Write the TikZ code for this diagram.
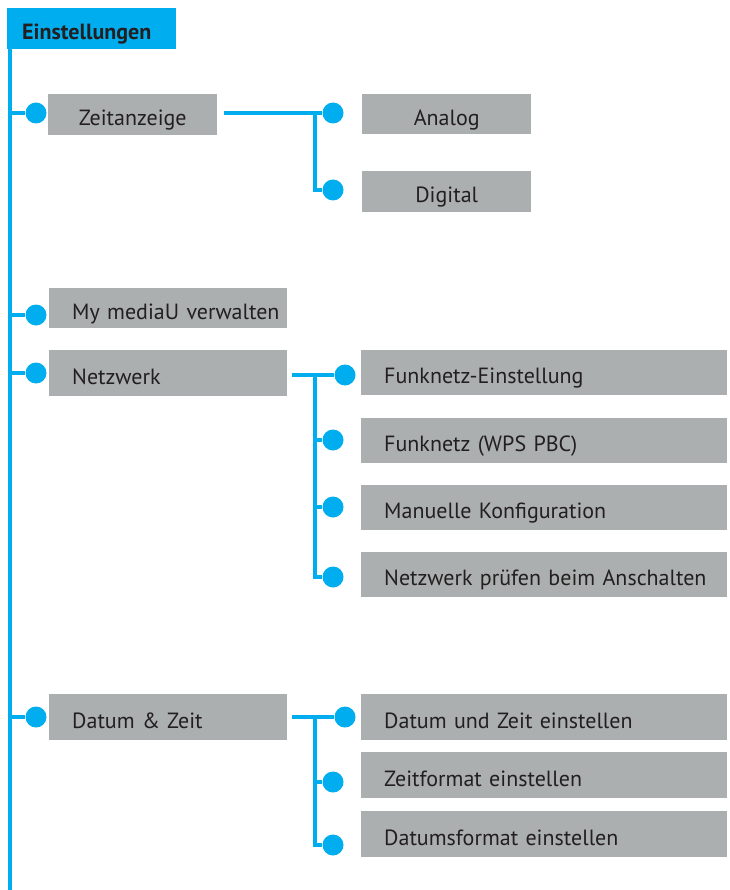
\documentclass[tikz,border=0pt]{standalone}
\usepackage{fontspec}
\setmainfont{PT Sans}
\definecolor{cy}{HTML}{00AEEF}
\definecolor{bx}{HTML}{ACAFAF}
\definecolor{tx}{HTML}{231F20}
\tikzset{
  box/.style={fill=bx, text=tx, font=\fontsize{22}{25}\selectfont, inner ysep=0pt, inner xsep=0pt, anchor=north west, text height=22pt, text depth=0pt},
  lbox/.style={box, align=left, execute at begin node={\hspace*{23pt}}},
  cbox/.style={box, align=center},
  dot/.style={circle, fill=cy, inner sep=0pt, minimum size=21pt},
  wire/.style={draw=cy, line width=4.5pt},
}
\begin{document}
\begin{tikzpicture}[x=1pt,y=-1pt]
\useasboundingbox (0,0) rectangle (729,890);
% header
\node[fill=cy, text=tx, font=\fontsize{22}{25}\selectfont\bfseries, anchor=north west, minimum width=169pt, minimum height=41pt, text width=139pt, inner xsep=15pt, inner ysep=0pt, align=left, text height=22pt, text depth=0pt] (hd) at (7,8) {Einstellungen};
\coordinate (mainend) at (10,890);
% main boxes
\node[cbox, minimum width=169pt, minimum height=41pt, text width=169pt] (zeit) at (48,94) {Zeitanzeige};
\node[lbox, minimum width=238pt, minimum height=40pt, text width=238pt] (media) at (49,288) {My mediaU verwalten};
\node[lbox, minimum width=238pt, minimum height=46pt, text width=238pt] (netz) at (49,350) {Netzwerk};
\node[lbox, minimum width=238pt, minimum height=46pt, text width=238pt] (datum) at (49,694) {Datum \& Zeit};
% sub boxes
\node[cbox, minimum width=169pt, minimum height=40pt, text width=169pt] (analog) at (362,94) {Analog};
\node[cbox, minimum width=169pt, minimum height=41pt, text width=169pt] (digital) at (362,171) {Digital};
\node[lbox, minimum width=366pt, minimum height=45pt, text width=366pt] (n1) at (361,350) {Funknetz-Einstellung};
\node[lbox, minimum width=366pt, minimum height=45pt, text width=366pt] (n2) at (361,418) {Funknetz (WPS PBC)};
\node[lbox, minimum width=366pt, minimum height=45pt, text width=366pt] (n3) at (361,485) {Manuelle Konfiguration};
\node[lbox, minimum width=366pt, minimum height=45pt, text width=366pt] (n4) at (361,552) {Netzwerk prüfen beim Anschalten};
\node[lbox, minimum width=366pt, minimum height=46pt, text width=366pt] (d1) at (361,694) {Datum und Zeit einstellen};
\node[lbox, minimum width=366pt, minimum height=46pt, text width=366pt] (d2) at (361,752) {Zeitformat einstellen};
\node[lbox, minimum width=366pt, minimum height=46pt, text width=366pt] (d3) at (361,811) {Datumsformat einstellen};
% main line
\draw[wire] (hd.south west -| mainend) -- (mainend);
% main dots
\node[dot] (mz) at (36,113) {};
\node[dot] (mm) at (36,315) {};
\node[dot] (mn) at (36,373) {};
\node[dot] (md) at (36,717) {};
\foreach \d in {mz,mm,mn,md} \draw[wire] (\d -| mainend) -- (\d);
% Zeitanzeige branch
\coordinate (zs) at (224,113);
\node[dot] (za) at (333,113) {};
\node[dot] (zd) at (333,190) {};
\coordinate (zv) at (315,113);
\draw[wire] (zs) -- (za);
\draw[wire, line join=miter] (zv) -- (zv |- zd) -- (zd);
% Netzwerk branch
\coordinate (ns) at (292,375);
\node[dot] (na) at (345,375) {};
\node[dot] (nb) at (333,440) {};
\node[dot] (nc) at (333,507) {};
\node[dot] (nd) at (333,577) {};
\coordinate (nv) at (315,375);
\draw[wire] (ns) -- (na);
\draw[wire, line join=miter] (nv) -- (nv |- nd) -- (nd);
\draw[wire] (nv |- nb) -- (nb);
\draw[wire] (nv |- nc) -- (nc);
% Datum branch
\coordinate (ds) at (292,717);
\node[dot] (da) at (345,717) {};
\node[dot] (db) at (333,782) {};
\node[dot] (dc) at (333,845) {};
\coordinate (dv) at (315,717);
\draw[wire] (ds) -- (da);
\draw[wire, line join=miter] (dv) -- (dv |- dc) -- (dc);
\draw[wire] (dv |- db) -- (db);
\end{tikzpicture}
\end{document}
